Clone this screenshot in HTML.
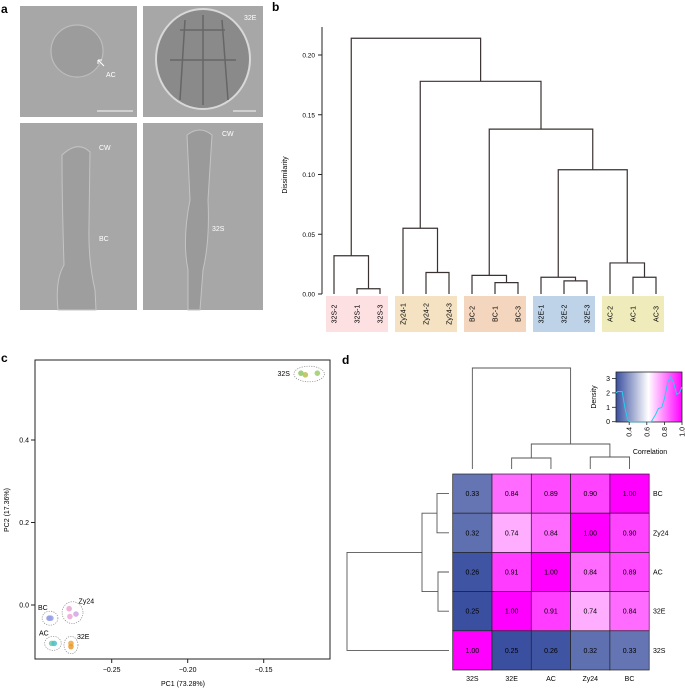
<!DOCTYPE html>
<html><head><meta charset="utf-8"><style>
body{margin:0;background:#fff;}
svg{display:block;font-family:"Liberation Sans",sans-serif;}
</style></head><body>
<svg id="fig" width="685" height="689" viewBox="0 0 685 689" xmlns="http://www.w3.org/2000/svg">
<!-- panel a -->
<g>
<text x="1" y="13" font-size="12" font-weight="bold">a</text>
<rect x="20" y="6" width="117" height="111" fill="#a7a7a7"/>
<circle cx="77" cy="51" r="26" fill="#9c9c9c" stroke="#bdbdbd" stroke-width="1.2"/>
<line x1="97" y1="111" x2="133" y2="111" stroke="#ddd" stroke-width="1.5"/>
<text x="106" y="77" font-size="7" fill="#fff">AC</text>
<path d="M104 66 L98 60 M98 60 l0 4 M98 60 l4 0" stroke="#fff" stroke-width="1"/>
<rect x="143" y="6" width="120" height="111" fill="#a7a7a7"/>
<ellipse cx="203" cy="59" rx="47" ry="50" fill="#8a8a8a" stroke="#d8d8d8" stroke-width="2"/>
<path d="M180 30 L225 30 M170 60 L236 60 M203 15 L203 105 M185 20 L180 100 M222 20 L228 100" stroke="#666" stroke-width="1.5" fill="none"/>
<line x1="233" y1="111" x2="256" y2="111" stroke="#ddd" stroke-width="1.5"/>
<text x="244" y="20" font-size="7" fill="#fff">32E</text>
<rect x="20" y="123" width="117" height="187" fill="#a7a7a7"/>
<path d="M62 155 Q78 140 90 152 L89 225 Q88 260 95 290 L96 310 L58 310 Q55 280 64 265 Q62 200 62 160 Z" fill="#9e9e9e" stroke="#c4c4c4"/>
<text x="99" y="150" font-size="7" fill="#fff">CW</text>
<text x="99" y="241" font-size="7" fill="#fff">BC</text>
<rect x="143" y="123" width="120" height="187" fill="#a7a7a7"/>
<path d="M187 135 Q200 125 212 135 L208 200 Q210 240 203 270 L200 310 L188 310 L188 270 Q182 240 190 200 Z" fill="#9a9a9a" stroke="#c4c4c4"/>
<text x="222" y="136" font-size="7" fill="#fff">CW</text>
<text x="212" y="231" font-size="7" fill="#fff">32S</text>
</g>

<!-- panel b -->
<g id="pb">
<text x="272" y="11" font-size="12" font-weight="bold">b</text>
<text transform="translate(287,175) rotate(-90)" font-size="7" text-anchor="middle">Dissimilarity</text>
</g>

<!-- panel c -->
<g id="pc">
<text x="1" y="362" font-size="12" font-weight="bold">c</text>
<rect x="35" y="360" width="295" height="299" fill="none" stroke="#222" stroke-width="1"/>
<text x="183" y="686" font-size="7" text-anchor="middle">PC1 (73.28%)</text>
<text transform="translate(9,510) rotate(-90)" font-size="7" text-anchor="middle">PC2 (17.36%)</text>
</g>

<!-- panel d -->
<g id="pd">
<text x="342" y="364" font-size="12" font-weight="bold">d</text>
<defs><linearGradient id="cg" x1="0" x2="1"><stop offset="0" stop-color="#3a4f9f"/><stop offset="0.49" stop-color="#ffffff"/><stop offset="1" stop-color="#ff00ff"/></linearGradient></defs>
<rect x="616" y="372" width="66" height="50" fill="url(#cg)" stroke="#222" stroke-width="0.8"/>
<text transform="translate(596,397) rotate(-90)" font-size="7" text-anchor="middle">Density</text>
<text x="650" y="454" font-size="7" text-anchor="middle">Correlation</text>
</g>

<script>
const NS="http://www.w3.org/2000/svg";
function mk(parent,tag,attrs,text){const e=document.createElementNS(NS,tag);for(const k in attrs)e.setAttribute(k,attrs[k]);if(text!==undefined)e.textContent=text;parent.appendChild(e);return e;}

// ---------- panel b data ----------
const leafLabels=["32S-2","32S-1","32S-3","Zy24-1","Zy24-2","Zy24-3","BC-2","BC-1","BC-3","32E-1","32E-2","32E-3","AC-2","AC-1","AC-3"];
const dTicks=[0,0.05,0.10,0.15,0.20];
const groupNames=["32S","Zy24","BC","32E","AC"];
const groupColors=["#fde0e2","#f4e2c2","#f3d6bd","#bed3e8","#efebbb"];
// merges: [left node, right node, height]; leaves 0..14, internal nodes 15+
const bMerges=[
 [1,2,0.0044],   //15
 [4,5,0.018],    //16
 [7,8,0.0095],   //17
 [10,11,0.011],  //18
 [13,14,0.014],  //19
 [0,15,0.032],   //20
 [3,16,0.055],   //21
 [6,17,0.0156],  //22
 [9,18,0.014],   //23
 [12,19,0.026],  //24
 [23,24,0.104],  //25
 [22,25,0.138],  //26
 [21,26,0.178],  //27
 [20,27,0.214]   //28
];
(function(){
 const g=document.getElementById('pb');
 const X0=334,DX=23.0,Y0=294,SC=1195;
 const yB=v=>Y0-v*SC;
 mk(g,'line',{x1:322,y1:27,x2:322,y2:Y0,stroke:'#222','stroke-width':1});
 dTicks.forEach(t=>{const y=yB(t);
  const tk=mk(g,'line',{x1:318,y1:y,x2:322,y2:y,stroke:'#222','stroke-width':1});
  
  
  const tl=mk(g,'text',{x:315,y:y+2.5,'font-size':6.5,'text-anchor':'end'},t.toFixed(2));
  
  });
 groupNames.forEach((n,i)=>{const r=mk(g,'rect',{x:X0+i*3*DX-8,y:296,width:62,height:36,fill:groupColors[i]});
  
  });
 const nx=[],ny=[];
 leafLabels.forEach((l,i)=>{nx[i]=X0+i*DX;ny[i]=0;
  const t=mk(g,'text',{transform:`translate(${X0+i*DX+2.5},314) rotate(-90)`,'font-size':7,'text-anchor':'middle'},l);
  
  });
 bMerges.forEach((m,k)=>{const id=leafLabels.length+k;const [a,b,h]=m;
  nx[id]=(nx[a]+nx[b])/2;ny[id]=h;
  const p=mk(g,'path',{d:`M${nx[a]} ${yB(ny[a])} V${yB(h)} H${nx[b]} V${yB(ny[b])}`,fill:'none',stroke:'#3a3232','stroke-width':1.2});
  
  });
})();
</script>
<script>
// ---------- panel c data ----------
const pcGroups=["32S","32S","32S","Zy24","Zy24","Zy24","BC","BC","AC","AC","32E","32E"];
const pc1=[-0.1255,-0.1226,-0.1147,-0.278,-0.2775,-0.2735,-0.2912,-0.290,-0.2895,-0.2878,-0.2768,-0.2768];
const pc2=[0.562,0.558,0.562,-0.009,-0.028,-0.022,-0.032,-0.032,-0.093,-0.093,-0.093,-0.101];
const pcColors=["#8cc864","#b9bf52","#9ccc6a","#eaa4d2","#eca4d4","#cfa4e2","#8494e2","#96a0e8","#6ccca4","#4fbfc6","#f0a43a","#e89a30"];
const pcXTicks=[-0.25,-0.20,-0.15];
const pcYTicks=[0.0,0.2,0.4];
const pcLabelNames=["32S","Zy24","BC","AC","32E"];
(function(){
 const g=document.getElementById('pc');
 const xS=v=>111.7+(v+0.25)*1520, yS=v=>605-v*412.5;
 pcXTicks.forEach(t=>{const x=xS(t);
  const a=mk(g,'line',{x1:x,y1:659,x2:x,y2:663,stroke:'#222'});
  
  
  const b=mk(g,'text',{x:x,y:672,'font-size':7,'text-anchor':'middle'},'\u2212'+Math.abs(t).toFixed(2));
  
  });
 pcYTicks.forEach(t=>{const y=yS(t);
  const a=mk(g,'line',{x1:31,y1:y,x2:35,y2:y,stroke:'#222'});
  
  
  const b=mk(g,'text',{x:29,y:y+2.5,'font-size':7,'text-anchor':'end'},t.toFixed(1));
  
  });
 pcLabelNames.forEach(n=>{const idx=pcGroups.map((gg,i)=>gg===n?i:-1).filter(i=>i>=0);
  const xs=idx.map(i=>xS(pc1[i])),ys=idx.map(i=>yS(pc2[i]));
  const cx=(Math.min(...xs)+Math.max(...xs))/2,cy=(Math.min(...ys)+Math.max(...ys))/2;
  const rx=(Math.max(...xs)-Math.min(...xs))/2+7,ry=(Math.max(...ys)-Math.min(...ys))/2+7;
  const e=mk(g,'ellipse',{cx:cx,cy:cy,rx:rx,ry:ry,fill:'none',stroke:'#888','stroke-width':0.7,'stroke-dasharray':'1.2,1.2'});
  
  
  const off={"32S":[-rx-4,2,'end'],"Zy24":[6,-9,'start'],"BC":[-12,-8,'start'],"AC":[-14,-8,'start'],"32E":[6,-6,'start']}[n];
  const t=mk(g,'text',{x:cx+off[0],y:cy+off[1],'font-size':7,'text-anchor':off[2]},n);
  
  });
 pc1.forEach((v,i)=>{const c=mk(g,'circle',{cx:xS(v),cy:yS(pc2[i]),r:2.8,fill:pcColors[i],'fill-opacity':0.85});
  
  });
})();
</script>
<script>
// ---------- panel d data ----------
const hmCols=["32S","32E","AC","Zy24","BC"];
const hmRows=["BC","Zy24","AC","32E","32S"];
const hmValues=[
 [0.33,0.84,0.89,0.90,1.00],
 [0.32,0.74,0.84,1.00,0.90],
 [0.26,0.91,1.00,0.84,0.89],
 [0.25,1.00,0.91,0.74,0.84],
 [1.00,0.25,0.26,0.32,0.33]];
const densX=[0.25,0.27,0.32,0.35,0.38,0.40,0.65,0.70,0.73,0.77,0.80,0.84,0.87,0.90,0.94,0.97,1.00];
const densY=[2.0,2.1,2.1,1.0,0.2,0.0,0.0,0.5,0.9,1.0,1.6,2.8,3.1,2.8,1.9,2.0,2.4];
const densYTicks=[0,1,2,3];
const densXTicks=[0.4,0.6,0.8,1.0];
(function(){
 const g=document.getElementById('pd');
 const CX=452.7,CY=474,CW=39.3,CH=39.2;
 function col(v){const lo=[58,79,159],mid=[255,255,255],hi=[255,0,255];let a,b,t;
  if(v<0.62){t=Math.max(0,(v-0.25)/0.37);a=lo;b=mid;}else{t=Math.min(1,(v-0.62)/0.38);a=mid;b=hi;}
  return 'rgb('+a.map((c,i)=>Math.round(c+(b[i]-c)*t)).join(',')+')';}
 hmValues.forEach((row,r)=>row.forEach((v,c)=>{
  const x=CX+c*CW,y=CY+r*CH;
  const rc=mk(g,'rect',{x:x,y:y,width:CW,height:CH,fill:col(v),stroke:'#222','stroke-width':0.7});
  
  
  const t=mk(g,'text',{x:x+CW/2,y:y+CH/2+2.5,'font-size':7,'text-anchor':'middle'},v.toFixed(2));
  
  }));
 hmCols.forEach((n,i)=>{const t=mk(g,'text',{x:CX+i*CW+CW/2,y:681,'font-size':7,'text-anchor':'middle'},n);
  
  });
 hmRows.forEach((n,i)=>{const t=mk(g,'text',{x:653,y:CY+i*CH+CH/2+2.5,'font-size':7},n);
  
  });
 const cx=i=>CX+i*CW+CW/2;
 const colD=`M${cx(1)} 469 V458 H${cx(2)} V469 M${cx(3)} 469 V457 H${cx(4)} V469 M${(cx(1)+cx(2))/2} 458 V444 H${(cx(3)+cx(4))/2} V457 M${cx(0)} 469 V368 H${(cx(1)+cx(2)+cx(3)+cx(4))/4} V444`;
 const p1=mk(g,'path',{d:colD,fill:'none',stroke:'#555','stroke-width':0.9});
 
 
 const ry=i=>CY+i*CH+CH/2;
 const rowD=`M449 ${ry(0)} H437 V${ry(1)} H449 M449 ${ry(2)} H438 V${ry(3)} H449 M437 ${(ry(0)+ry(1))/2} H422 V${(ry(2)+ry(3))/2} H438 M449 ${ry(4)} H347 V${(ry(0)+ry(1)+ry(2)+ry(3))/4} H422`;
 const p2=mk(g,'path',{d:rowD,fill:'none',stroke:'#555','stroke-width':0.9});
 
 
 const kx=v=>616+(v-0.25)*88, ky=v=>421.7-v*14.4;
 const pts=densX.map((v,i)=>kx(v)+','+ky(densY[i])).join(' ');
 const pl=mk(g,'polyline',{points:pts,fill:'none',stroke:'#22d0f0','stroke-width':1});
 
 
 densYTicks.forEach(t=>{const y=ky(t);
  const a=mk(g,'line',{x1:612,y1:y,x2:616,y2:y,stroke:'#222','stroke-width':0.8});
  
  
  const b=mk(g,'text',{x:610,y:y+2.5,'font-size':7,'text-anchor':'end'},String(t));
  
  });
 densXTicks.forEach(t=>{const x=kx(t);
  const a=mk(g,'line',{x1:x,y1:422,x2:x,y2:425,stroke:'#222','stroke-width':0.8});
  
  
  const b=mk(g,'text',{transform:`translate(${x+2.5},427) rotate(-90)`,'font-size':7,'text-anchor':'end'},t.toFixed(1));
  
  });
})();
</script>
</svg>
</body></html>
